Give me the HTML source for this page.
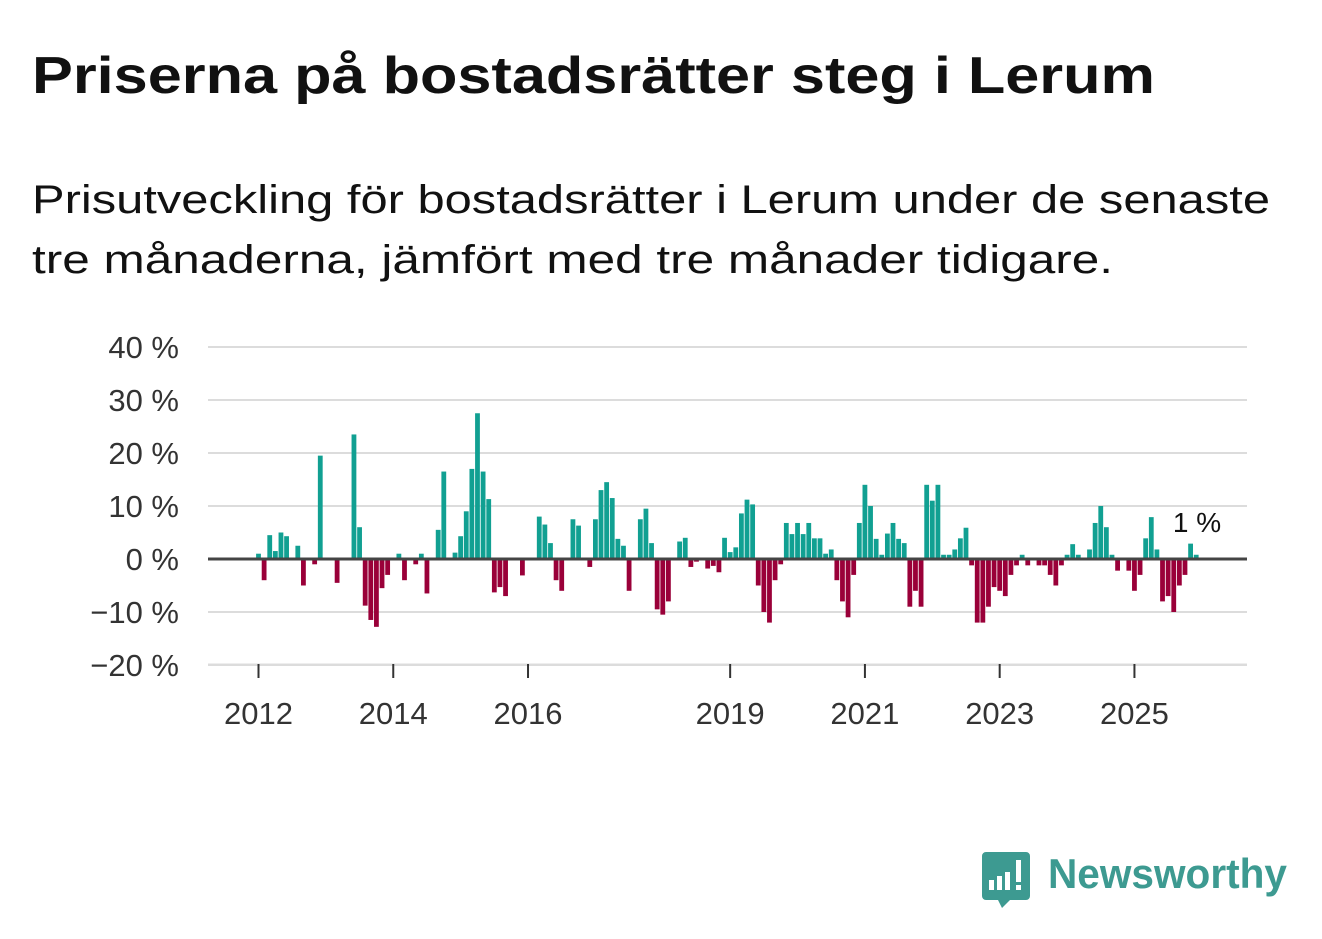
<!DOCTYPE html>
<html><head><meta charset="utf-8"><style>
html,body{margin:0;padding:0;background:#fff;}
svg{display:block;font-family:"Liberation Sans",sans-serif;}
</style></head><body>
<svg id="chart" width="1322" height="939" viewBox="0 0 1322 939" xmlns="http://www.w3.org/2000/svg">
<text x="32" y="93" font-size="52" font-weight="bold" fill="#111" textLength="1123" lengthAdjust="spacingAndGlyphs">Priserna på bostadsrätter steg i Lerum</text>
<text x="32" y="213" font-size="40" fill="#111" textLength="1238" lengthAdjust="spacingAndGlyphs">Prisutveckling för bostadsrätter i Lerum under de senaste</text>
<text x="32" y="273" font-size="40" fill="#111" textLength="1081" lengthAdjust="spacingAndGlyphs">tre månaderna, jämfört med tre månader tidigare.</text>
<g id="grid"></g>
<g id="bars"></g>
<g id="xaxis"></g>
<text x="1197" y="532" font-size="28" fill="#111" text-anchor="middle">1 %</text>
<g>
<path d="M986 852 h40 a4 4 0 0 1 4 4 v40 a4 4 0 0 1 -4 4 h-16 l-8 8 l-4 -8 h-12 a4 4 0 0 1 -4 -4 v-40 a4 4 0 0 1 4 -4z" fill="#3d9a91"/>
<rect x="989" y="880" width="5" height="10" fill="#fff"/>
<rect x="997" y="876" width="5" height="14" fill="#fff"/>
<rect x="1005" y="872" width="5" height="18" fill="#fff"/>
<rect x="1016" y="860" width="5" height="22" fill="#fff"/>
<rect x="1016" y="885" width="5" height="5" fill="#fff"/>
<text x="1048" y="888" font-size="42" font-weight="bold" fill="#3d9a91" textLength="239" lengthAdjust="spacingAndGlyphs">Newsworthy</text>
</g>
</svg>
<script>
const values = [1,-4,4.5,1.5,5,4.3,0,2.5,-5,0,-1,19.5,0,0,-4.5,0,0,23.5,6,-8.8,-11.5,-12.8,-5.5,-3,0,1,-4,0,-1,1,-6.5,0,5.5,16.5,0,1.2,4.3,9,17,27.5,16.5,11.3,-6.3,-5.3,-7,0,0,-3.1,0,0,8,6.5,3,-4,-6,0,7.5,6.3,0,-1.5,7.5,13,14.5,11.5,3.8,2.5,-6,0,7.5,9.5,3,-9.5,-10.5,-8,0,3.3,4,-1.5,-0.5,0,-1.8,-1.3,-2.5,4,1.3,2.2,8.6,11.2,10.3,-5,-10,-12,-4,-1,6.8,4.7,6.8,4.7,6.8,3.9,3.9,1,1.8,-4,-8,-11,-3,6.8,14,10,3.8,0.8,4.8,6.8,3.8,3,-9,-6,-9,14,11,14,0.8,0.8,1.8,3.9,5.9,-1.2,-12,-12,-9,-5.3,-6,-7,-3,-1.2,0.8,-1.2,0,-1.2,-1.2,-3,-5,-1.2,0.8,2.8,0.8,0,1.8,6.8,10,6,0.8,-2.2,0,-2.2,-6,-3,3.9,7.9,1.8,-8,-7,-10,-5,-3,2.9,0.8];
const startYear = 2012;
const yTicks = [40,30,20,10,0,-10,-20];
const yTickLabels = ["40 %","30 %","20 %","10 %","0 %","\u221210 %","\u221220 %"];
const xTickYears = [2012,2014,2016,2019,2021,2023,2025];

const NS = "http://www.w3.org/2000/svg";
const yScale = v => 559 - v * 5.3;
const xScale = m => 258.5 + m * 5.615;
const grid = document.getElementById('grid');
const bars = document.getElementById('bars');
const xaxis = document.getElementById('xaxis');

yTicks.forEach((t, i) => {
  if (t !== 0) {
    const l = document.createElementNS(NS, 'line');
    
    
    l.setAttribute('x1', 208); l.setAttribute('x2', 1247);
    l.setAttribute('y1', yScale(t)); l.setAttribute('y2', yScale(t));
    l.setAttribute('stroke', '#dcdcdc'); l.setAttribute('stroke-width', 2);
    grid.appendChild(l);
  }
  const tx = document.createElementNS(NS, 'text');
  
  
  tx.setAttribute('x', 179); tx.setAttribute('y', yScale(t) + 11);
  tx.setAttribute('font-size', 31); tx.setAttribute('fill', '#333');
  tx.setAttribute('text-anchor', 'end');
  tx.textContent = yTickLabels[i];
  grid.appendChild(tx);
});

values.forEach((v, i) => {
  if (v === 0) return;
  const r = document.createElementNS(NS, 'rect');
  
  
  const x = xScale(i) - 2.4;
  r.setAttribute('x', x); r.setAttribute('width', 4.8);
  r.setAttribute('y', Math.min(yScale(v), yScale(0)));
  r.setAttribute('height', Math.abs(yScale(v) - yScale(0)));
  r.setAttribute('fill', v > 0 ? '#11a092' : '#9a0039');
  bars.appendChild(r);
});

const zl = document.createElementNS(NS, 'line');


zl.setAttribute('x1', 208); zl.setAttribute('x2', 1247);
zl.setAttribute('y1', yScale(0)); zl.setAttribute('y2', yScale(0));
zl.setAttribute('stroke', '#444'); zl.setAttribute('stroke-width', 3);
bars.appendChild(zl);

const bl = document.createElementNS(NS, 'line');


bl.setAttribute('x1', 208); bl.setAttribute('x2', 1247);
bl.setAttribute('y1', 664); bl.setAttribute('y2', 664);
bl.setAttribute('stroke', '#ddd'); bl.setAttribute('stroke-width', 1);
xaxis.appendChild(bl);

xTickYears.forEach(yr => {
  const x = xScale((yr - startYear) * 12);
  const tk = document.createElementNS(NS, 'line');
  
  
  tk.setAttribute('x1', x); tk.setAttribute('x2', x);
  tk.setAttribute('y1', 664); tk.setAttribute('y2', 678);
  tk.setAttribute('stroke', '#333'); tk.setAttribute('stroke-width', 2);
  xaxis.appendChild(tk);
  const tx = document.createElementNS(NS, 'text');
  
  
  tx.setAttribute('x', x); tx.setAttribute('y', 724);
  tx.setAttribute('font-size', 31); tx.setAttribute('fill', '#333');
  tx.setAttribute('text-anchor', 'middle');
  tx.textContent = yr;
  xaxis.appendChild(tx);
});
</script>
</body></html>
